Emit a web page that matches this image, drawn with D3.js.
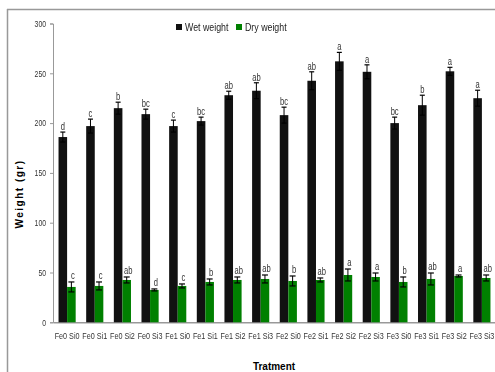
<!DOCTYPE html>
<html>
<head>
<meta charset="utf-8">
<script src="https://cdn.jsdelivr.net/npm/d3@7"></script>
<style>
body { margin: 0; background: #fff; }
svg { font-family: "Liberation Sans", Arial, sans-serif; }
</style>
</head>
<body>
<div id="chart"></div>
<script>
var categories = ["Fe0 Si0", "Fe0 Si1", "Fe0 Si2", "Fe0 Si3", "Fe1 Si0", "Fe1 Si1", "Fe1 Si2", "Fe1 Si3",
    "Fe2 Si0", "Fe2 Si1", "Fe2 Si2", "Fe2 Si3", "Fe3 Si0", "Fe3 Si1", "Fe3 Si2", "Fe3 Si3"];
var wetWeight = [186, 197, 215, 209, 197, 202, 228, 232.5, 208, 242.5, 262, 251.5, 200, 218, 252, 225];
var wetError = [5, 7, 6, 5, 6, 4, 4, 8, 8, 9, 9, 7, 6, 10, 4, 8];
var wetLetters = ["d", "c", "b", "bc", "c", "bc", "ab", "ab", "bc", "ab", "a", "a", "bc", "b", "a", "a"];
var dryWeight = [35.5, 36.5, 42.5, 32.5, 36.5, 40.5, 42.5, 43.5, 41.5, 42.5, 47.5, 45.5, 40.5, 43.5, 46.5, 44.5];
var dryError = [5, 4, 3, 1, 2, 3, 3, 4, 5, 2, 6, 4, 5, 6, 1, 3];
var dryLetters = ["c", "c", "ab", "d", "c", "b", "ab", "ab", "b", "ab", "a", "a", "b", "ab", "a", "ab"];
var yTicks = [0, 50, 100, 150, 200, 250, 300];

var W = 495, H = 372;
var NARROW = 0.76; // squeeze to look like Arial Narrow

var svg = d3.select("#chart").append("svg")
    .attr("width", W)
    .attr("height", H);

// gray filter so squeezed text has no colour fringes
svg.append("defs").append("filter").attr("id", "gray")
    .append("feColorMatrix").attr("type", "saturate").attr("values", 0);

// frame
svg.append("line").attr("x1", 7).attr("x2", W).attr("y1", 9.5).attr("y2", 9.5)
    .attr("stroke", "#999").attr("stroke-width", 1.5);
svg.append("line").attr("x1", 7.5).attr("x2", 7.5).attr("y1", 9).attr("y2", H)
    .attr("stroke", "#999").attr("stroke-width", 1.5);

var x = d3.scaleBand()
    .domain(categories)
    .range([53, 496])
    .paddingInner(0.38)
    .paddingOuter(0.2);

var sub = d3.scaleBand()
    .domain(["wet", "dry"])
    .range([0, x.bandwidth()]);

var y = d3.scaleLinear()
    .domain([0, 300])
    .range([322.3, 23.5]);

// y axis
var yAxis = svg.append("g")
    .attr("transform", "translate(53,0)")
    .call(d3.axisLeft(y).tickValues(yTicks).tickSize(3));
yAxis.select(".domain").attr("stroke", "#999");
yAxis.selectAll(".tick line").attr("stroke", "#999");
yAxis.selectAll("text")
    .attr("x", -7 / NARROW)
    .attr("transform", "scale(" + NARROW + ",1)")
    .attr("filter", "url(#gray)")
    .attr("font-size", 9).attr("fill", "#333");

// x axis
var xAxis = svg.append("g")
    .attr("transform", "translate(0," + y(0) + ")")
    .call(d3.axisBottom(x).tickSize(0).tickPadding(10));
xAxis.select(".domain").attr("stroke", "#999").attr("stroke-width", 1.5);
xAxis.selectAll("text")
    .attr("transform", "scale(" + NARROW + ",1)")
    .attr("filter", "url(#gray)")
    .attr("font-size", 9.5).attr("fill", "#333");

var rows = categories.map(function (c, i) {
    return {cat: c, wet: wetWeight[i], we: wetError[i], wl: wetLetters[i],
        dry: dryWeight[i], de: dryError[i], dl: dryLetters[i]};
});

var g = svg.selectAll(".grp")
    .data(rows)
    .enter()
    .append("g")
    .attr("class", "grp")
    .attr("transform", function (d) { return "translate(" + x(d.cat) + ",0)"; });

g.append("rect")
    .attr("x", sub("wet"))
    .attr("width", sub.bandwidth())
    .attr("y", function (d) { return y(d.wet); })
    .attr("height", function (d) { return y(0) - y(d.wet); })
    .attr("fill", "#111");

g.append("rect")
    .attr("x", sub("dry"))
    .attr("width", sub.bandwidth())
    .attr("y", function (d) { return y(d.dry); })
    .attr("height", function (d) { return y(0) - y(d.dry); })
    .attr("fill", "#008000");

function errorBar(sel, key, errKey, cx, cap) {
    sel.append("line")
        .attr("x1", cx).attr("x2", cx)
        .attr("y1", function (d) { return y(d[key] - d[errKey]); })
        .attr("y2", function (d) { return y(d[key] + d[errKey]); })
        .attr("stroke", "#000").attr("stroke-width", 1);
    [1, -1].forEach(function (s) {
        sel.append("line")
            .attr("x1", cx - cap).attr("x2", cx + cap)
            .attr("y1", function (d) { return y(d[key] + s * d[errKey]); })
            .attr("y2", function (d) { return y(d[key] + s * d[errKey]); })
            .attr("stroke", "#000").attr("stroke-width", 1.2);
    });
}

var wetC = sub("wet") + sub.bandwidth() / 2;
var dryC = sub("dry") + sub.bandwidth() / 2;
errorBar(g, "wet", "we", wetC, 2.5);
errorBar(g, "dry", "de", dryC, 3);

g.append("text")
    .attr("transform", function (d) {
        return "translate(" + wetC + "," + (y(d.wet + d.we) - 2) + ") scale(" + NARROW + ",1)";
    })
    .attr("filter", "url(#gray)")
    .attr("text-anchor", "middle")
    .attr("font-size", 10)
    .attr("fill", "#333")
    .text(function (d) { return d.wl; });

g.append("text")
    .attr("transform", function (d) {
        return "translate(" + (dryC + 1.5) + "," + (y(d.dry + d.de) - 3) + ") scale(" + NARROW + ",1)";
    })
    .attr("filter", "url(#gray)")
    .attr("text-anchor", "middle")
    .attr("font-size", 10)
    .attr("fill", "#333")
    .text(function (d) { return d.dl; });

// legend
var legend = [{name: "Wet weight", color: "#111", x: 176}, {name: "Dry weight", color: "#008000", x: 236}];
var lg = svg.selectAll(".lg").data(legend).enter().append("g")
    .attr("transform", function (d) { return "translate(" + d.x + ",24)"; });
lg.append("rect").attr("width", 6).attr("height", 6).attr("fill", function (d) { return d.color; });
lg.append("text")
    .attr("transform", "translate(9,7) scale(0.84,1)")
    .attr("filter", "url(#gray)")
    .attr("font-size", 10.5).attr("fill", "#222")
    .text(function (d) { return d.name; });

// axis titles
svg.append("text")
    .attr("transform", "translate(23,194) rotate(-90)")
    .attr("text-anchor", "middle")
    .attr("font-weight", "bold")
    .attr("font-size", 10)
    .attr("letter-spacing", 1.5)
    .text("Weight (gr)");

svg.append("text")
    .attr("x", 274)
    .attr("y", 370)
    .attr("text-anchor", "middle")
    .attr("font-weight", "bold")
    .attr("font-size", 10)
    .text("Tratment");
</script>
</body>
</html>
